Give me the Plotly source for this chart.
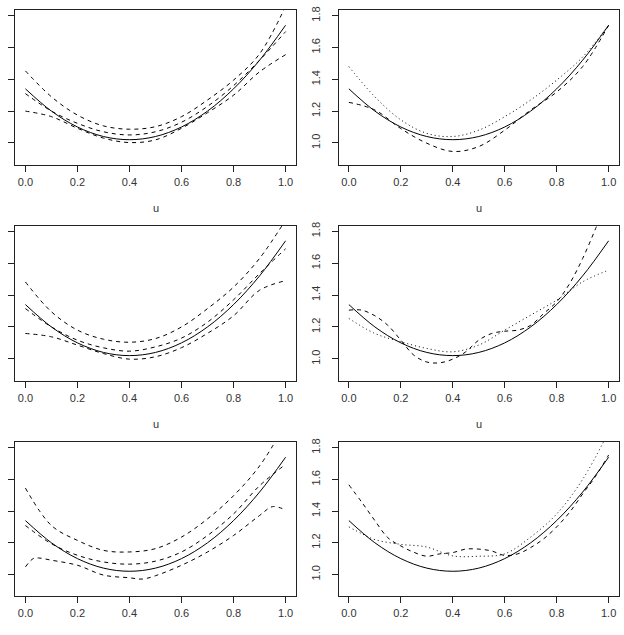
import plotly.graph_objects as go

# ---- data ----
u11 = [0.0, 0.1, 0.2, 0.3, 0.4, 0.5, 0.6, 0.7, 0.8, 0.9, 1.0]
true_curve = [1.34, 1.20, 1.10, 1.04, 1.02, 1.04, 1.10, 1.20, 1.34, 1.52, 1.74]

# panel 1 (top-left): bands
p1_upper = [1.453, 1.29, 1.175, 1.107, 1.086, 1.102, 1.165, 1.27, 1.395, 1.56, 1.86]
p1_mid = [1.31, 1.20, 1.123, 1.07, 1.05, 1.07, 1.13, 1.23, 1.36, 1.52, 1.70]
p1_lower = [1.20, 1.165, 1.092, 1.03, 1.002, 1.019, 1.092, 1.19, 1.30, 1.447, 1.555]

# panel 2 (top-right)
p2_dotted = [1.48, 1.29, 1.145, 1.06, 1.04, 1.08, 1.165, 1.27, 1.395, 1.54, 1.74]
p2_dashed = [1.255, 1.207, 1.09, 0.998, 0.946, 0.977, 1.08, 1.207, 1.32, 1.48, 1.74]

# panel 3 (middle-left)
p3_upper = [1.482, 1.295, 1.18, 1.123, 1.104, 1.127, 1.20, 1.315, 1.45, 1.63, 1.87]
p3_mid = [1.315, 1.20, 1.117, 1.069, 1.048, 1.075, 1.13, 1.23, 1.37, 1.535, 1.69]
p3_lower = [1.159, 1.138, 1.086, 1.033, 0.998, 1.013, 1.07, 1.16, 1.27, 1.43, 1.49]

# panel 4 (middle-right)
u21 = [0.0, 0.05, 0.1, 0.15, 0.2, 0.25, 0.3, 0.35, 0.4, 0.45, 0.5,
       0.55, 0.6, 0.65, 0.7, 0.75, 0.8, 0.85, 0.9, 0.95, 1.0]
p4_dashed = [1.305, 1.305, 1.27, 1.21, 1.117, 1.023, 0.98, 0.975, 0.998, 1.044, 1.117,
             1.159, 1.173, 1.18, 1.21, 1.284, 1.357, 1.472, 1.629, 1.817, 2.02]
p4_dotted = [1.253, 1.159, 1.107, 1.065, 1.044, 1.086, 1.18, 1.274, 1.368, 1.483, 1.556]

# panel 5 (bottom-left)
p5_upper = [1.545, 1.309, 1.215, 1.152, 1.142, 1.163, 1.236, 1.351, 1.497, 1.685, 1.95]
p5_mid = [1.309, 1.194, 1.121, 1.079, 1.065, 1.084, 1.142, 1.246, 1.382, 1.56, 1.695]
u_p5_low = [0.0, 0.03, 0.05, 0.1, 0.2, 0.3, 0.4, 0.45, 0.5, 0.6, 0.7, 0.8, 0.9, 0.95, 1.0]
p5_lower = [1.048, 1.10, 1.104, 1.09, 1.058, 0.996, 0.979, 0.971, 0.992, 1.058, 1.142,
            1.246, 1.372, 1.428, 1.407]

# panel 6 (bottom-right)
p6_dashed = [1.566, 1.455, 1.34, 1.232, 1.18, 1.14, 1.115, 1.13, 1.138, 1.16, 1.16,
             1.148, 1.12, 1.13, 1.17, 1.225, 1.30, 1.393, 1.508, 1.62, 1.754]
u_p6_dot = [0.0, 0.05, 0.1, 0.2, 0.3, 0.4, 0.5, 0.6, 0.7, 0.8, 0.9, 1.0]
p6_dotted = [1.30, 1.257, 1.22, 1.19, 1.173, 1.117, 1.115, 1.13, 1.236, 1.382, 1.60, 1.90]

x_ticks = [0.0, 0.2, 0.4, 0.6, 0.8, 1.0]
x_ticktext = ["0.0", "0.2", "0.4", "0.6", "0.8", "1.0"]
y_ticks = [1.0, 1.2, 1.4, 1.6, 1.8]
y_ticktext = ["1.0", "1.2", "1.4", "1.6", "1.8"]

W, H = 624, 635
cols = [(15, 296), (338.5, 619)]
rows = [(10, 164.5), (225.5, 380.5), (442, 596)]

SOLID = dict(color="black", width=1)
DASH = dict(color="black", width=1, dash="4px,4px")
DOT = dict(color="black", width=1, dash="1px,3px")

panels = [
    [(u11, true_curve, SOLID), (u11, p1_upper, DASH), (u11, p1_mid, DASH), (u11, p1_lower, DASH)],
    [(u11, true_curve, SOLID), (u11, p2_dotted, DOT), (u11, p2_dashed, DASH)],
    [(u11, true_curve, SOLID), (u11, p3_upper, DASH), (u11, p3_mid, DASH), (u11, p3_lower, DASH)],
    [(u11, true_curve, SOLID), (u21, p4_dashed, DASH), (u11, p4_dotted, DOT)],
    [(u11, true_curve, SOLID), (u11, p5_upper, DASH), (u11, p5_mid, DASH), (u_p5_low, p5_lower, DASH)],
    [(u11, true_curve, SOLID), (u21, p6_dashed, DASH), (u_p6_dot, p6_dotted, DOT)],
]

FONT = "Liberation Sans, Arial, Helvetica, sans-serif"
fig = go.Figure()
layout = dict(
    template="none",
    width=W, height=H, margin=dict(l=0, r=0, t=0, b=0, autoexpand=False),
    plot_bgcolor="white", paper_bgcolor="white", showlegend=False,
    font=dict(family=FONT, size=11, color="#333"),
    hovermode=False,
)
annotations = []
for i, traces in enumerate(panels):
    r, c = divmod(i, 2)
    n = i + 1
    xa = "x" if n == 1 else f"x{n}"
    ya = "y" if n == 1 else f"y{n}"
    for xs, ys, ln in traces:
        fig.add_trace(go.Scatter(x=xs, y=ys, mode="lines", line=dict(**ln, shape="spline", smoothing=1.0),
                                 xaxis=xa, yaxis=ya))
    x0, x1 = cols[c]
    y0, y1 = rows[r]
    axcommon = dict(showline=True, mirror=True, linecolor="#222", linewidth=1, ticks="outside",
                    ticklen=6, tickcolor="#222", tickwidth=1, showgrid=False, zeroline=False,
                    fixedrange=True, automargin=False,
                    tickfont=dict(family=FONT, size=11, color="#333"))
    layout["xaxis" if n == 1 else f"xaxis{n}"] = dict(
        domain=[x0 / W, x1 / W], range=[-0.04, 1.04], tickvals=x_ticks, ticktext=x_ticktext,
        anchor=ya, ticklabelstandoff=1, **axcommon)
    layout["yaxis" if n == 1 else f"yaxis{n}"] = dict(
        domain=[1 - y1 / H, 1 - y0 / H], range=[0.864, 1.836], tickvals=y_ticks, ticktext=y_ticktext,
        tickangle=-90, anchor=xa, ticklabelstandoff=7, **axcommon)
    if r < 2:
        annotations.append(dict(text="u", x=(x0 + x1) / 2 / W, y=1 - (y1 + 43.5) / H,
                                xref="paper", yref="paper", showarrow=False,
                                font=dict(family=FONT, size=11, color="#333"),
                                xanchor="center", yanchor="middle"))
layout["annotations"] = annotations
fig.update_layout(**layout)
fig.write_html("out.html")
